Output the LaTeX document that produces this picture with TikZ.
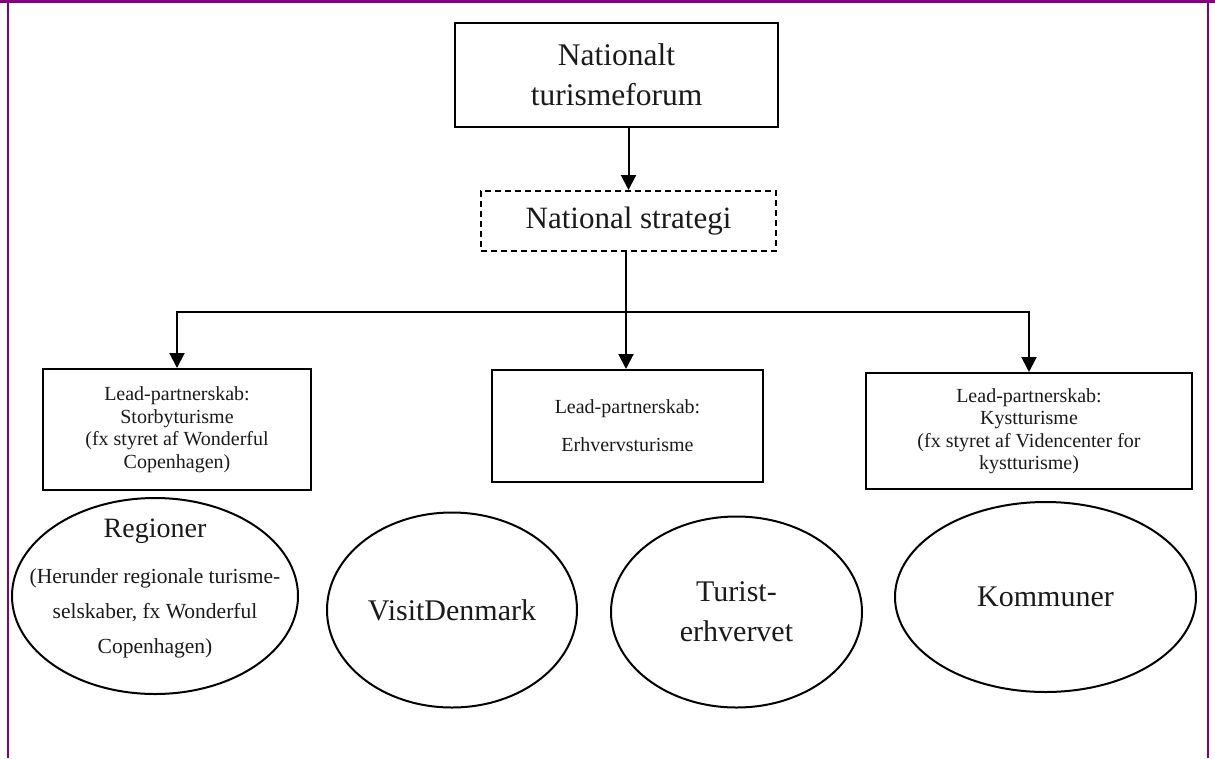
\documentclass[tikz,border=0pt]{standalone}
\usepackage{fontspec}
\setmainfont{Liberation Serif}
\usetikzlibrary{arrows.meta,shapes.geometric}
\definecolor{framepurple}{HTML}{800080}
\definecolor{inkgray}{HTML}{1A1A1A}
\begin{document}
\begin{tikzpicture}[x=1pt,y=-1pt,
  boxnode/.style={draw,line width=2pt,inner sep=0pt,align=center,text=inkgray},
  ellnode/.style={draw,ellipse,line width=2pt,inner sep=0pt},
  txt/.style={inner sep=0pt,align=center,text=inkgray},
  conn/.style={line width=2pt,-{Triangle[length=15pt,width=15pt]}},
  bigfont/.style={font=\fontsize{31.5}{40}\selectfont},
  smallfont/.style={font=\fontsize{20}{22.5}\selectfont},
  ellfont/.style={font=\fontsize{21.5}{37}\selectfont}]
\useasboundingbox (0,0) rectangle (1215,758);
% frame
\draw[framepurple,line width=3pt] (0,1.5) -- (1215,1.5);
\draw[framepurple,line width=2pt] (8,0) -- (8,758);
\draw[framepurple,line width=2pt] (1207.5,0) -- (1207.5,758);
% boxes
\node[boxnode,bigfont,minimum width=323pt,minimum height=104pt] (forum) at (616.5,75) {Nationalt\\turismeforum};
\node[boxnode,dashed,dash pattern=on 6pt off 4pt,font=\fontsize{31}{36}\selectfont,minimum width=295pt,minimum height=60pt] (strat) at (628.5,221) {National strategi};
\node[boxnode,smallfont,minimum width=268pt,minimum height=121pt] (city) at (177,429.5) {Lead-partnerskab:\\Storbyturisme\\(fx styret af Wonderful\\Copenhagen)};
\node[boxnode,font=\fontsize{20}{38}\selectfont,minimum width=271pt,minimum height=112pt] (biz) at (627.5,426) {Lead-partnerskab:\\Erhvervsturisme};
\node[boxnode,smallfont,minimum width=326pt,minimum height=116pt] (coast) at (1029,431) {Lead-partnerskab:\\Kystturisme\\(fx styret af Videncenter for\\kystturisme)};
% ellipses
\node[ellnode,minimum width=286pt,minimum height=196pt] (reg) at (155,596) {};
\node[txt,anchor=base,font=\fontsize{28}{34}\selectfont] (regt1) at (155,537) {Regioner};
\node[txt,anchor=base,ellfont] (regt2) at (155,583) {(Herunder regionale turisme-};
\node[txt,anchor=base,ellfont] (regt3) at (155,618) {selskaber, fx Wonderful};
\node[txt,anchor=base,ellfont] (regt4) at (155,653) {Copenhagen)};
\node[ellnode,minimum width=250pt,minimum height=195pt] (visit) at (452,610) {};
\node[txt,font=\fontsize{30}{36}\selectfont] (visitt) at (visit) {VisitDenmark};
\node[ellnode,minimum width=251pt,minimum height=191pt] (erhv) at (736.5,612) {};
\node[txt,font=\fontsize{30}{40}\selectfont] (erhvt) at (erhv) {Turist-\\erhvervet};
\node[ellnode,minimum width=301pt,minimum height=190pt] (komm) at (1045.5,597) {};
\node[txt,font=\fontsize{30}{36}\selectfont] (kommt) at (komm) {Kommuner};
% connectors
\coordinate (hub) at (626,312);
\draw[conn] (strat.north |- forum.south) -- (strat.north);
\draw[conn] (strat.south -| hub) -- (biz.north -| hub);
\draw[conn] (hub) -| (city.north);
\draw[conn] (hub) -| (coast.north);
\end{tikzpicture}
\end{document}
